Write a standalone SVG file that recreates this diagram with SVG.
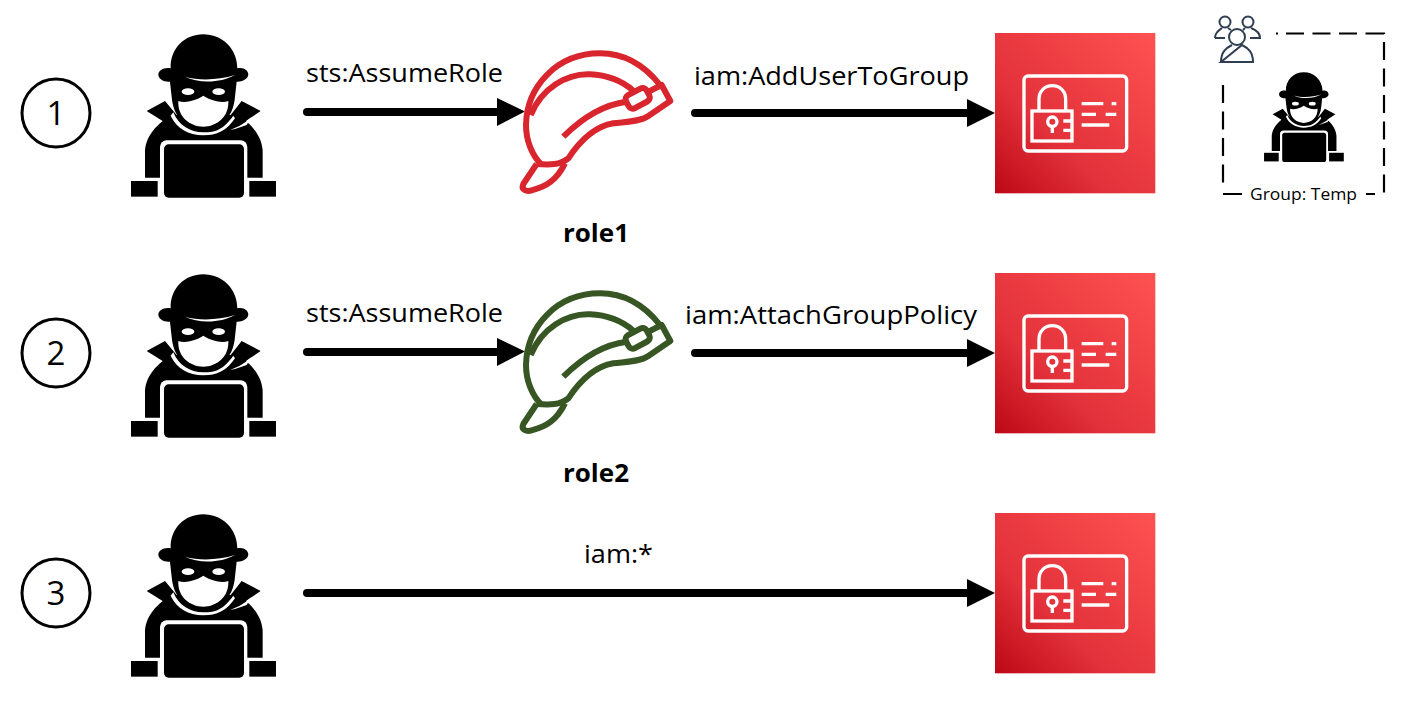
<svg xmlns="http://www.w3.org/2000/svg" xmlns:xlink="http://www.w3.org/1999/xlink" width="1416" height="706" viewBox="0 0 1416 706">
<style>
text{font-family:"Open Sans","Noto Sans","Liberation Sans",sans-serif;fill:#000}
.lbl{font-size:25px}
.role{font-size:25px;font-weight:700}
.num{font-size:33px;text-anchor:middle}
.circ{fill:#fff;stroke:#000;stroke-width:3}
.conn{stroke:#000;stroke-width:8;stroke-linecap:round;fill:none}
.head{fill:#000;stroke:none}
.dash{stroke:#000;stroke-width:2.2;fill:none}
.ppl{fill:none;stroke:#2f3e50;stroke-width:2}
</style>
<defs>
<linearGradient id="g" x1="0" y1="1" x2="1" y2="0">
<stop offset="0" stop-color="#BD0816"/><stop offset="0.35" stop-color="#E2313A"/><stop offset="1" stop-color="#FF5252"/>
</linearGradient>
<g id="spy" transform="scale(0.3333)">
<path d="M75 458V375C78 345 92 318 128 288L80 258L135 228L170 270H332L365 228L422 258L378 288C412 318 425 345 428 375V458Z" fill="#000"/>
<path d="M152 130C150 70 195 28 250 28C305 28 352 70 352 130C368 125 385 135 385 148C385 165 360 172 350 170L345 215C340 280 300 312 250 312C200 312 160 280 155 215L150 170C135 172 115 165 115 148C115 135 135 125 152 130Z" fill="#000"/>
<path d="M160 262C175 300 210 322 250 322C290 322 310 312 340 272L345 280C320 318 290 331 250 331C205 331 170 310 152 272Z" fill="#fff"/>
<path d="M330 315C355 305 375 295 395 275L380 300L345 312Z" fill="#fff"/>
<path d="M195 155C240 168 295 165 345 150C300 175 235 175 195 155Z" fill="#fff"/>
<ellipse cx="204" cy="200" rx="19" ry="10" fill="#fff"/>
<ellipse cx="296" cy="200" rx="19" ry="10" fill="#fff"/>
<path d="M175 228C195 235 225 228 250 212C275 228 305 235 325 228C328 275 290 305 250 305C210 305 172 275 175 228Z" fill="#fff"/>
<rect x="120" y="346" width="262" height="180" rx="20" fill="#fff"/>
<rect x="132" y="358" width="240" height="160" rx="14" fill="#000"/>
<rect x="33" y="468" width="80" height="47" fill="#000"/>
<rect x="388" y="468" width="80" height="47" fill="#000"/>
</g>
<g id="helmet" transform="scale(0.3333)" fill="none" stroke="currentColor" stroke-width="18" stroke-linejoin="round">
<path d="M480 135C430 72 370 40 300 40C170 40 80 140 78 255C78 300 95 345 125 375"/>
<path d="M92 225C125 145 200 100 270 103C320 105 365 122 400 152"/>
<path d="M440 158L485 135L511 183L445 228C420 245 380 245 340 250C280 260 235 310 205 355C180 375 150 375 110 372"/>
<path d="M110 372L70 432C62 450 80 456 95 451C140 440 170 420 195 370"/>
<path d="M190 290C240 240 300 195 380 185"/>
<rect x="378" y="153" width="70" height="44" rx="14" transform="rotate(-28 413 175)"/>
</g>
<g id="iam" transform="scale(0.3333)">
<rect x="30" y="24" width="481" height="481" fill="url(#g)"/>
<g fill="none" stroke="#fff" stroke-width="10">
<rect x="117" y="153" width="308" height="225" rx="12"/>
<rect x="141" y="258" width="120" height="90"/>
<path d="M162 258V222C162 198 180 182 202 182C224 182 242 198 242 222V258"/>
<circle cx="202" cy="290" r="14"/>
<path d="M202 304V324M235 288H261M235 316H261M290 236H355M380 236H394M290 268H333M362 268H394M290 300H373"/>
</g>
</g>
</defs>
<rect width="1416" height="706" fill="#fff"/>

<g id="connectors">
<path class="conn" d="M307 112H500"/><path class="head" d="M497 98L525 111.500L497 126Z"/>
<path class="conn" d="M695 113H970"/><path class="head" d="M967 99L995 113L967 127Z"/>
<path class="conn" d="M307 352H500"/><path class="head" d="M497 338L525 351.500L497 366Z"/>
<path class="conn" d="M695 353H970"/><path class="head" d="M967 339L995 353L967 367Z"/>
<path class="conn" d="M307 593H970"/><path class="head" d="M967 579L995 593L967 607Z"/>
</g>

<g id="step1"><circle class="circ" cx="56" cy="113" r="34"/><text class="num" x="56" y="125">1</text></g>
<g id="step2"><circle class="circ" cx="56" cy="353" r="34"/><text class="num" x="56" y="365">2</text></g>
<g id="step3"><circle class="circ" cx="56" cy="593" r="34"/><text class="num" x="56" y="605">3</text></g>

<g id="user1"><use xlink:href="#spy" href="#spy" transform="translate(120 25)"/></g>
<g id="user2"><use xlink:href="#spy" href="#spy" transform="translate(120 265)"/></g>
<g id="user3"><use xlink:href="#spy" href="#spy" transform="translate(120 505)"/></g>

<g id="role1" color="#D9252D"><use xlink:href="#helmet" href="#helmet" transform="translate(500 40)"/><text class="role" x="563" y="242" textLength="66" lengthAdjust="spacingAndGlyphs">role1</text></g>
<g id="role2" color="#375623"><use xlink:href="#helmet" href="#helmet" transform="translate(500 280)"/><text class="role" x="563" y="482" textLength="66" lengthAdjust="spacingAndGlyphs">role2</text></g>

<g id="iam1"><use xlink:href="#iam" href="#iam" transform="translate(985 25)"/></g>
<g id="iam2"><use xlink:href="#iam" href="#iam" transform="translate(985 265)"/></g>
<g id="iam3"><use xlink:href="#iam" href="#iam" transform="translate(985 505)"/></g>

<g id="labels">
<text class="lbl" x="306" y="82" textLength="197" lengthAdjust="spacingAndGlyphs">sts:AssumeRole</text>
<text class="lbl" x="694" y="85" textLength="275" lengthAdjust="spacingAndGlyphs">iam:AddUserToGroup</text>
<text class="lbl" x="306" y="322" textLength="197" lengthAdjust="spacingAndGlyphs">sts:AssumeRole</text>
<text class="lbl" x="685" y="324" textLength="292" lengthAdjust="spacingAndGlyphs">iam:AttachGroupPolicy</text>
<text class="lbl" x="584" y="563" textLength="69" lengthAdjust="spacingAndGlyphs">iam:*</text>
</g>

<g id="group-temp">
<path class="dash" d="M1276 33.500H1384V195" stroke-dasharray="2 8 18 8.500 18 8.500 18 8.500 19 0 0 8 18 8.500 18 8.500 18 8.500 18 8.500 18 8.500 18 8.500"/>
<path class="dash" d="M1223 85V189" stroke-dasharray="18 8.500"/>
<path class="dash" d="M1223 194H1242M1366 194H1375"/>
<text x="1250" y="200" font-size="15.500" textLength="107" lengthAdjust="spacingAndGlyphs">Group: Temp</text>
<use xlink:href="#spy" href="#spy" transform="translate(1258 67) scale(0.55)"/>
<g class="ppl">
<circle cx="1225" cy="22" r="5.500"/><circle cx="1248" cy="22" r="5.500"/>
<path d="M1215 38C1215 32 1219 30 1222 28M1228 28L1231 30M1243 30L1245 28M1251 28C1256 30 1260 33 1260 38H1250M1215 38H1225"/>
<circle cx="1237" cy="37" r="8"/>
<path d="M1221 62C1221 52 1226 48 1232 45M1242 45C1248 48 1253 52 1253 62H1221Z"/>
</g>
</g>
</svg>
